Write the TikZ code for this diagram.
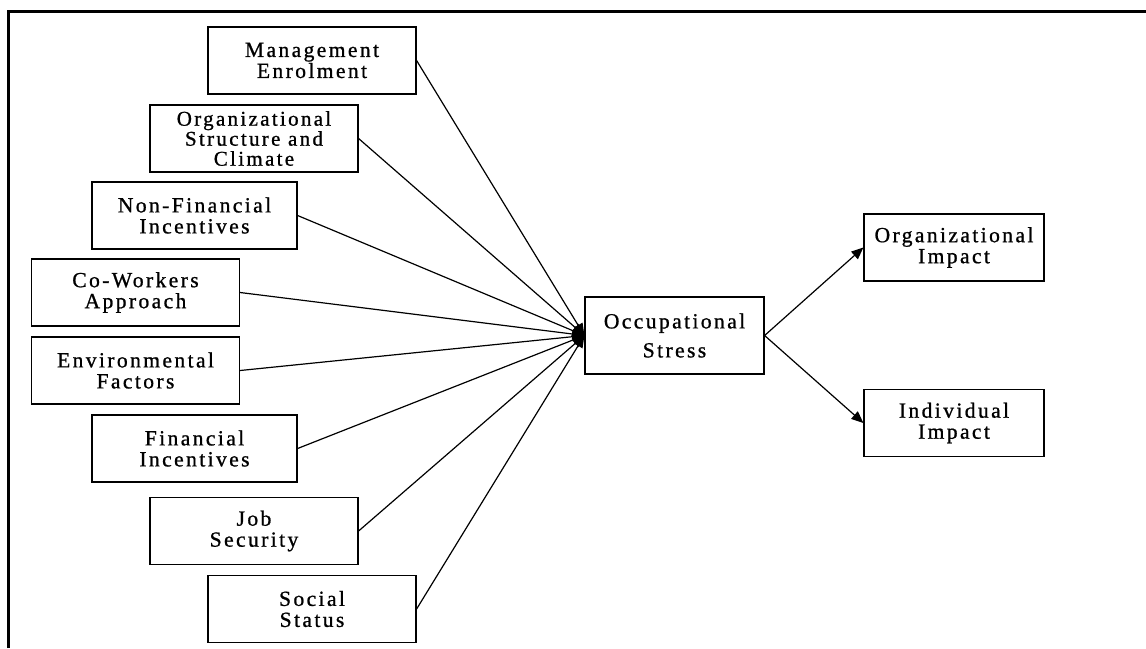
\documentclass[tikz,border=0pt]{standalone}
\usepackage{fontspec}
\setmainfont{Liberation Serif}
\newfontfamily\boxfont[LetterSpace=11,FakeBold=0.9]{Liberation Serif}
\usetikzlibrary{positioning,arrows.meta}

\begin{document}
\begin{tikzpicture}[x=0.5pt,y=-0.5pt,
      factor/.style={draw,line width=0.6pt,minimum width=104pt,minimum height=33.5pt,inner sep=2pt,align=center,font=\boxfont\fontsize{10.8}{10.5}\selectfont},
      core/.style={draw,line width=0.6pt,minimum width=89.5pt,minimum height=38.5pt,inner sep=2pt,align=center,font=\boxfont\fontsize{10.8}{14.5}\selectfont},
      impact/.style={draw,line width=0.6pt,minimum width=90pt,minimum height=33.5pt,inner sep=2pt,align=center,font=\boxfont\fontsize{10.8}{10.5}\selectfont},
      link/.style={-{Triangle[length=6pt,width=5pt]},line width=0.6pt}]

    \useasboundingbox (0,0) rectangle (1146,648);
    % frame, top and left only
    \draw[line width=1.5pt] (8,648) -- (8,11) -- (1146,11);

    % stressors
    \node[factor] (mgmt) at (312,60.5) {Management\\Enrolment};
    \node[factor,inner sep=1pt,font=\boxfont\fontsize{10.5}{10}\selectfont] (orgs) at (254,138.5) {Organizational\\Structure and\\Climate};
    \node[factor,minimum width=102.5pt] (nonfin) at (194.5,215.5) {Non-Financial\\Incentives};
    \node[factor] (cowork) at (135.5,292.5) {Co-Workers\\Approach};
    \node[factor] (env) at (135.5,370.5) {Environmental\\Factors};
    \node[factor,minimum width=102.5pt] (fin) at (194.5,448.5) {Financial\\Incentives};
    \node[factor] (job) at (254,531) {Job\\Security};
    \node[factor] (social) at (312,609) {Social\\Status};

    \node[core] (stress) at (674.5,335.5) {Occupational\\Stress};

    % outcomes
    \node[impact] (orgimp) at (954,247.5) {Organizational\\Impact};
    \node[impact] (indimp) at (954,423) {Individual\\Impact};

    \foreach \f in {mgmt,orgs,nonfin,cowork,env,fin,job,social}
      \draw[link] (\f.east) -- (stress.west);

    \draw[link] (stress.east) -- (orgimp.west);
    \draw[link] (stress.east) -- (indimp.west);
  \end{tikzpicture}
\end{document}
